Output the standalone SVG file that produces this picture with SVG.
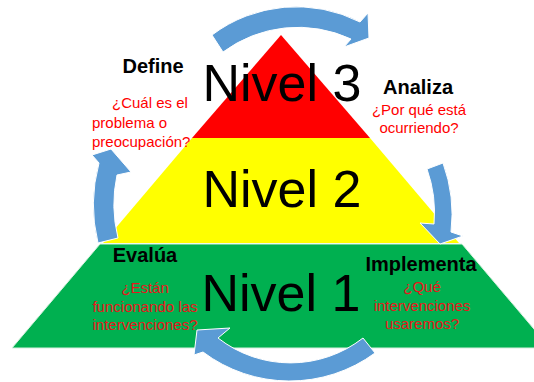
<svg xmlns="http://www.w3.org/2000/svg" width="534" height="382" viewBox="0 0 534 382">
<style>
.lvl{font-family:"Liberation Sans",Arial,sans-serif;font-size:52px;fill:#000;text-anchor:middle}
.hd{font-family:"Liberation Sans",Arial,sans-serif;font-size:20px;font-weight:bold;fill:#000;text-anchor:middle}
.q{font-family:"Liberation Sans",Arial,sans-serif;font-size:15px;fill:#FF0000}
.qc{text-anchor:middle}
.q2{fill:#E8161C}
.arr{fill:#5B9BD5;stroke:#FFFFFF;stroke-width:1;stroke-linejoin:miter}
</style>
<rect x="0" y="0" width="534" height="382" fill="#FFFFFF"/>
<g id="nivel1">
<polygon points="100,244 462,244 550,348 12,348" fill="#00B050" stroke="#D6F0DE" stroke-width="1"/>
<text class="lvl" x="281" y="311">Nivel 1</text>
</g>
<g id="nivel2">
<polygon points="192,138 370,138 459,243 103,243" fill="#FFFF00"/>
<text class="lvl" x="282" y="207">Nivel 2</text>
</g>
<g id="nivel3">
<polygon points="281,35 370,138 192,138" fill="#FF0000"/>
<text class="lvl" x="282" y="101">Nivel 3</text>
</g>
<g id="connectors">
<path class="arr" d="M212,35 A140,140 0 0 1 360,22 L368,13 L369,38 L344,47 L351,39 A126,126 0 0 0 223,52 Z"/>
<path class="arr" d="M443,163 A150,150 0 0 1 451,232 L463,236 L440,244 L420,223 L434,224 A130,130 0 0 0 427,169 Z"/>
<path class="arr" d="M375,353 A144,144 0 0 1 203,352 L194,355 L197,330 L230,328 L218,338 A118,118 0 0 0 363,338 Z"/>
<path class="arr" d="M98,243 A160,160 0 0 1 99,163 L92,155 L111,149 L131,172 L117,175 A140,140 0 0 0 118,238 Z"/>
</g>
<g id="define">
<text class="hd" x="153" y="73">Define</text>
<text class="q" x="112" y="108">¿Cuál es el</text>
<text class="q" x="92" y="128">problema o</text>
<text class="q" x="92" y="147">preocupación?</text>
</g>
<g id="analiza">
<text class="hd" x="418" y="94">Analiza</text>
<text class="q qc" x="419" y="115">¿Por qué está</text>
<text class="q qc" x="419" y="133">ocurriendo?</text>
</g>
<g id="evalua">
<text class="hd" x="145" y="262">Evalúa</text>
<text class="q q2 qc" x="145" y="293">¿Están</text>
<text class="q q2 qc" x="145" y="312">funcionando las</text>
<text class="q q2 qc" x="145" y="330">intervenciones?</text>
</g>
<g id="implementa">
<text class="hd" x="421" y="271">Implementa</text>
<text class="q q2 qc" x="422" y="292">¿Qué</text>
<text class="q q2 qc" x="422" y="311">intervenciones</text>
<text class="q q2 qc" x="422" y="329">usaremos?</text>
</g>
</svg>
